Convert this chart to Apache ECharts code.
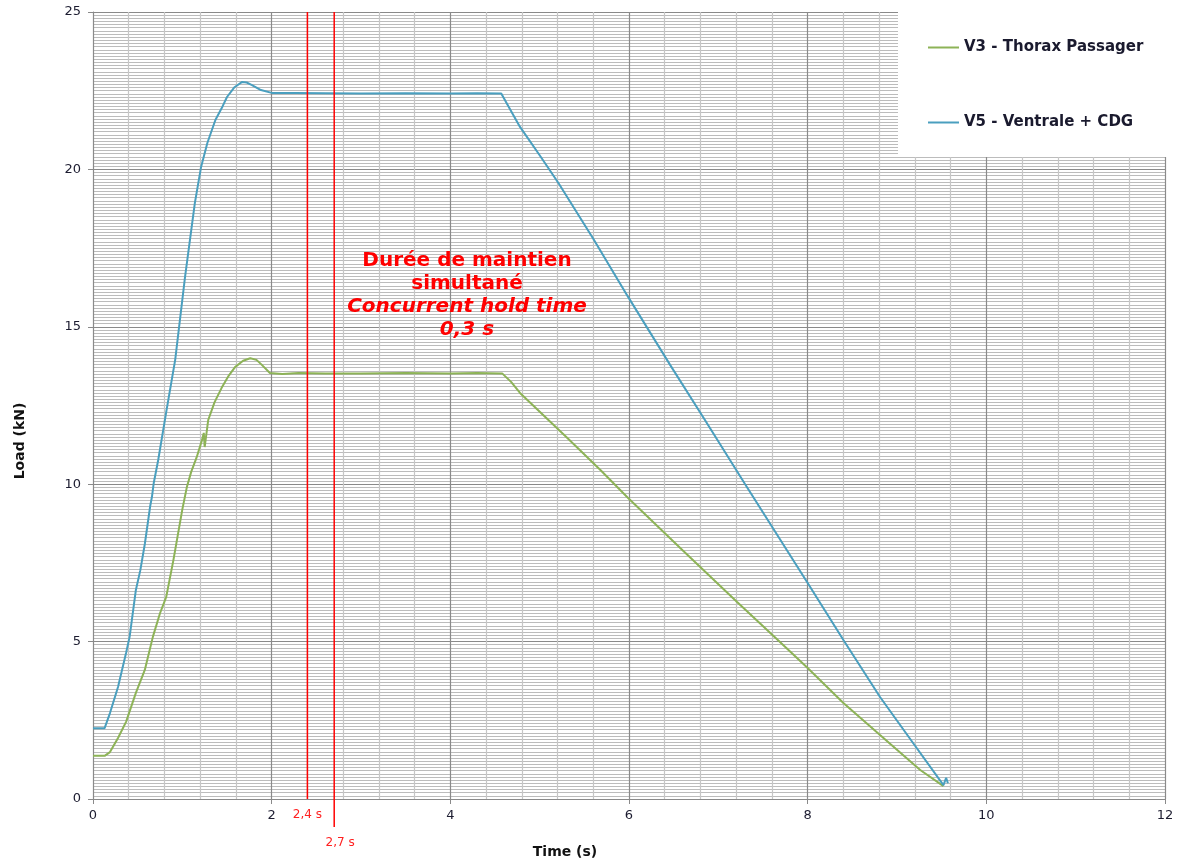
<!DOCTYPE html>
<html>
<head>
<meta charset="utf-8">
<script src="https://cdn.jsdelivr.net/npm/echarts@6/dist/echarts.min.js"></script>
<style>
  html, body { margin: 0; padding: 0; background: #ffffff; }
  #chart { width: 1180px; height: 865px; }
</style>
</head>
<body>
<div id="chart"></div>
<script>
// Load cells: V5 (ventral + CDG) and V3 (passenger thorax), time in s, load in kN
const v5Time = [0, 0.13, 0.19, 0.28, 0.37, 0.41, 0.48, 0.53, 0.58, 0.64, 0.66, 0.68, 0.73, 0.82, 0.92, 1.03, 1.14, 1.21, 1.28, 1.37, 1.45, 1.5, 1.58, 1.67, 1.72, 1.78, 1.88, 2.0, 2.26, 2.6, 3.0, 3.5, 4.0, 4.3, 4.57, 4.67, 4.78, 5.0, 5.21, 5.6, 5.99, 6.46, 6.85, 7.3, 8.0, 8.4, 8.81, 9.2, 9.52, 9.55, 9.57];
const v5Load = [2.25, 2.25, 2.73, 3.56, 4.64, 5.15, 6.64, 7.27, 8.1, 9.3, 9.6, 10.04, 10.77, 12.3, 13.95, 16.58, 18.93, 20.08, 20.84, 21.57, 22.0, 22.3, 22.6, 22.78, 22.76, 22.68, 22.52, 22.43, 22.43, 22.42, 22.41, 22.42, 22.41, 22.42, 22.41, 21.9, 21.35, 20.45, 19.57, 17.8, 15.95, 13.79, 12.04, 10.0, 6.86, 5.05, 3.24, 1.7, 0.44, 0.67, 0.5];

const v3Time = [0, 0.13, 0.19, 0.28, 0.37, 0.48, 0.58, 0.67, 0.75, 0.82, 0.9, 1.0, 1.05, 1.1, 1.16, 1.22, 1.24, 1.25, 1.29, 1.36, 1.44, 1.52, 1.59, 1.68, 1.76, 1.83, 1.89, 1.98, 2.12, 2.3, 2.6, 3.0, 3.5, 4.0, 4.3, 4.58, 4.68, 4.78, 5.31, 5.68, 5.99, 6.6, 7.21, 7.69, 8.0, 8.4, 8.81, 9.26, 9.52];
const v3Load = [1.37, 1.37, 1.49, 1.94, 2.45, 3.37, 4.1, 5.15, 5.9, 6.42, 7.59, 9.2, 9.9, 10.4, 10.85, 11.4, 11.63, 11.18, 12.04, 12.6, 13.06, 13.45, 13.72, 13.92, 14.0, 13.95, 13.79, 13.53, 13.5, 13.53, 13.52, 13.52, 13.53, 13.52, 13.53, 13.52, 13.25, 12.9, 11.47, 10.45, 9.56, 7.9, 6.26, 4.99, 4.16, 3.05, 2.03, 0.92, 0.41];

const seriesNames = ['V3 - Thorax Passager', 'V5 - Ventrale + CDG'];
const seriesColors = ['#8db357', '#4a9fbf'];

// Start and end of the concurrent hold window
const holdTimes = [2.4, 2.7];
const holdLabels = ['2,4 s', '2,7 s'];

const xMin = 0, xMax = 12, xStep = 2;
const yMin = 0, yMax = 25, yStep = 5;

const font = 'DejaVu Sans, Verdana, sans-serif';

const pairs = (ts, vs) => ts.map((t, i) => [t, vs[i]]);

const chart = echarts.init(document.getElementById('chart'), null, { renderer: 'canvas' });

chart.setOption({
  animation: false,
  backgroundColor: '#ffffff',
  grid: { left: 93, right: 15, top: 12, bottom: 66 },
  xAxis: {
    type: 'value', min: xMin, max: xMax, interval: xStep,
    axisLine: { show: true, lineStyle: { color: '#8a8a8a', width: 1 } },
    axisTick: { show: true, length: 5, lineStyle: { color: '#8a8a8a' } },
    axisLabel: { color: '#1c1c30', fontSize: 13, fontFamily: font, margin: 10 },
    splitLine: { show: true, lineStyle: { color: '#8a8a8a', width: 1.2 } },
    minorTick: { show: false, splitNumber: 5 },
    minorSplitLine: { show: true, lineStyle: { color: '#c6c6c6', width: 1.2 } }
  },
  yAxis: {
    type: 'value', min: yMin, max: yMax, interval: yStep,
    axisLine: { show: true, lineStyle: { color: '#8a8a8a', width: 1 } },
    axisTick: { show: true, length: 5, lineStyle: { color: '#8a8a8a' } },
    axisLabel: { color: '#1c1c30', fontSize: 13, fontFamily: font, margin: 12 },
    splitLine: { show: true, lineStyle: { color: '#8a8a8a', width: 1.2 } },
    minorTick: { show: false, splitNumber: 50 },
    minorSplitLine: { show: true, lineStyle: { color: '#bcbcbc', width: 1 } }
  },
  legend: {
    data: seriesNames.map(n => ({ name: n, icon: 'rect' })),
    orient: 'vertical',
    left: 923, top: 35,
    itemWidth: 31, itemHeight: 2, itemGap: 60,
    z: 6,
    textStyle: { fontFamily: font, fontWeight: 'bold', fontSize: 15, color: '#1a1a2e' }
  },
  graphic: [
    { type: 'rect', z: 4, silent: true,
      shape: { x: 898, y: 6, width: 282, height: 151 },
      style: { fill: '#ffffff' } },
    { type: 'text', z: 7, silent: true, x: 467, y: 295,
      style: {
        text: '{a|Durée de maintien}\n{a|simultané}\n{b|Concurrent hold time}\n{b|0,3 s}',
        textAlign: 'center', textVerticalAlign: 'middle',
        rich: {
          a: { fontFamily: font, fontWeight: 'bold', fontSize: 20, fill: '#ff0000', lineHeight: 23, align: 'center' },
          b: { fontFamily: font, fontWeight: 'bold', fontStyle: 'italic', fontSize: 20, fill: '#ff0000', lineHeight: 23, align: 'center' }
        }
      } },
    { type: 'text', z: 7, silent: true, x: 20, y: 441, rotation: Math.PI / 2,
      style: { text: 'Load (kN)', fontFamily: font, fontWeight: 'bold', fontSize: 14, fill: '#111111',
               textAlign: 'center', textVerticalAlign: 'middle' } },
    { type: 'text', z: 7, silent: true, x: 565, y: 852,
      style: { text: 'Time (s)', fontFamily: font, fontWeight: 'bold', fontSize: 14, fill: '#111111',
               textAlign: 'center', textVerticalAlign: 'middle' } }
  ],
  series: [
    {
      name: seriesNames[0], type: 'line', data: pairs(v3Time, v3Load),
      symbol: 'none', smooth: false, z: 3,
      lineStyle: { color: seriesColors[0], width: 2 },
      itemStyle: { color: seriesColors[0] }
    },
    {
      name: seriesNames[1], type: 'line', data: pairs(v5Time, v5Load),
      symbol: 'none', smooth: false, z: 3,
      lineStyle: { color: seriesColors[1], width: 2 },
      itemStyle: { color: seriesColors[1] }
    },
    {
      // red markers bounding the concurrent hold window
      name: 'hold', type: 'custom', clip: false, silent: true, z: 5,
      data: holdTimes.map(t => [t, yMin]),
      encode: { x: 0, y: 1 },
      renderItem: function (params, api) {
        const t = api.value(0);
        const i = params.dataIndex;
        const top = api.coord([t, yMax]);
        const base = api.coord([t, yMin]);
        const below = i === 1 ? 28 : 0;
        const labelDy = i === 1 ? 44 : 16;
        const labelDx = i === 1 ? 6 : 0;
        return {
          type: 'group',
          children: [
            { type: 'line',
              shape: { x1: top[0], y1: top[1], x2: base[0], y2: base[1] + below },
              style: { stroke: '#ff0000', lineWidth: 1.5 } },
            { type: 'text',
              style: { text: holdLabels[i], x: base[0] + labelDx, y: base[1] + labelDy,
                       fill: '#ff2020', fontFamily: font, fontSize: 12,
                       textAlign: 'center', textVerticalAlign: 'middle' } }
          ]
        };
      }
    }
  ]
});
</script>
</body>
</html>
